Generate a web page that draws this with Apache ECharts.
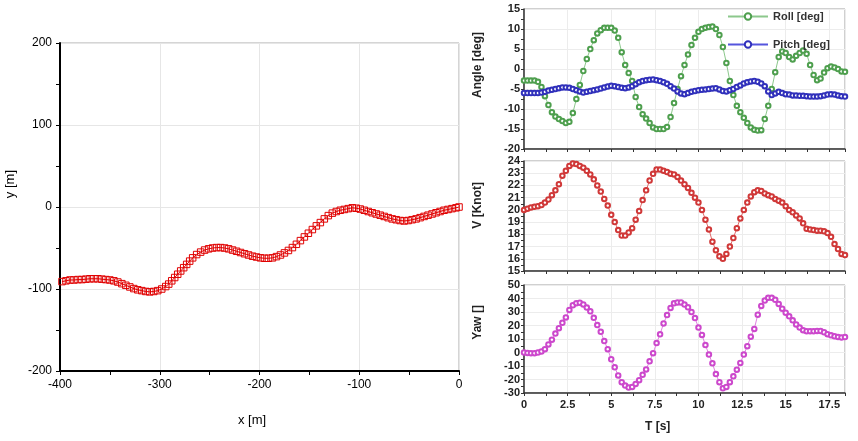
<!DOCTYPE html>
<html><head><meta charset="utf-8">
<script src="https://cdn.jsdelivr.net/npm/echarts@6/dist/echarts.min.js"></script>
<style>html,body{margin:0;padding:0;background:#fff}#c{width:858px;height:441px}</style>
</head><body><div id="c"></div>
<script>
// Trajectory (left chart)
const trajX = [-398,-394,-390,-386,-382,-378,-374,-370,-366,-362,-358,-354,-350,-346,-342,-338,-334,-330,-326,-322,-318,-314,-310,-306,-302,-298,-294,-291,-288,-285,-282,-279,-276,-273,-270,-267,-263,-259,-255,-251,-247,-243,-239,-235,-231,-227,-223,-219,-215,-211,-207,-203,-199,-195,-191,-187,-183,-179,-175,-171,-167,-163,-159,-155,-151,-147,-143,-139,-135,-131,-127,-123,-119,-115,-111,-107,-103,-99,-95,-91,-87,-83,-79,-75,-71,-67,-63,-59,-55,-51,-47,-43,-39,-35,-31,-27,-23,-19,-15,-11,-7,-3,0];
const trajY = [-91,-90,-89,-89,-88.5,-88.5,-88,-87.5,-87.5,-87.5,-88,-88.5,-89,-90,-91.5,-93.5,-95.5,-97.5,-99.5,-101,-102,-103,-103.5,-103,-102,-100,-97,-94,-90,-86,-82,-78,-74,-70,-66,-62,-58,-55,-52.5,-51,-50,-49.5,-49.5,-50,-51,-52.5,-54,-55.5,-57,-58.5,-60,-61,-62,-62.5,-62.5,-62,-60.5,-58.5,-56,-53,-49.5,-45.5,-41,-36.5,-32,-27.5,-23,-19,-14.5,-10.5,-7.5,-5.5,-4,-3,-2,-1,-1.5,-2.5,-4,-5.5,-7,-8.5,-10,-11.5,-13,-14.5,-15.5,-16.5,-17,-16.5,-15.5,-14.5,-13,-11.5,-10,-8.5,-7,-5.5,-4,-3,-2,-1,0];

// Time series (right charts)
const times = [0,0.2,0.4,0.6,0.8,1,1.2,1.4,1.6,1.8,2,2.2,2.4,2.6,2.8,3,3.2,3.4,3.6,3.8,4,4.2,4.4,4.6,4.8,5,5.2,5.4,5.6,5.8,6,6.2,6.4,6.6,6.8,7,7.2,7.4,7.6,7.8,8,8.2,8.4,8.6,8.8,9,9.2,9.4,9.6,9.8,10,10.2,10.4,10.6,10.8,11,11.2,11.4,11.6,11.8,12,12.2,12.4,12.6,12.8,13,13.2,13.4,13.6,13.8,14,14.2,14.4,14.6,14.8,15,15.2,15.4,15.6,15.8,16,16.2,16.4,16.6,16.8,17,17.2,17.4,17.6,17.8,18,18.2,18.4];
const roll = [-2.9,-2.9,-2.9,-2.9,-3.2,-4.5,-6.8,-9.0,-10.8,-11.9,-12.5,-13.0,-13.5,-13.2,-11.0,-7.5,-4.0,-0.5,2.5,5.0,7.2,8.9,9.7,10.3,10.3,10.3,9.6,7.8,4.2,1.0,-1.0,-3.0,-7.0,-9.5,-11.3,-12.4,-13.5,-14.6,-15.0,-15.0,-15.0,-14.5,-12.0,-8.5,-5.0,-1.8,1.0,3.6,6.0,7.8,9.3,10.0,10.3,10.5,10.6,10.0,8.5,5.5,1.5,-3.0,-6.5,-9.2,-10.8,-12.2,-13.5,-14.6,-15.2,-15.4,-15.3,-12.5,-9.2,-5.0,-0.8,3.0,4.4,4.0,3.0,2.4,3.3,4.0,4.6,3.8,1.0,-1.5,-2.8,-2.4,-0.9,0.2,0.6,0.4,0.0,-0.6,-0.7];
const pitch = [-6.0,-6.0,-6.0,-6.0,-6.0,-5.9,-5.7,-5.4,-5.2,-5.0,-4.8,-4.6,-4.6,-4.7,-5.0,-5.3,-5.6,-5.9,-5.7,-5.5,-5.3,-5.1,-4.9,-4.6,-4.4,-4.2,-4.3,-4.5,-4.7,-4.8,-4.6,-4.3,-3.8,-3.3,-3.0,-2.8,-2.7,-2.6,-2.8,-3.0,-3.3,-3.7,-4.3,-4.9,-5.6,-6.1,-6.3,-6.0,-5.7,-5.5,-5.3,-5.2,-5.1,-5.0,-4.9,-4.8,-5.1,-5.5,-5.6,-5.3,-5.0,-4.5,-4.1,-3.6,-3.3,-3.1,-3.0,-3.2,-3.6,-4.3,-5.6,-6.5,-6.1,-5.7,-6.0,-6.3,-6.4,-6.6,-6.6,-6.7,-6.7,-6.8,-6.9,-6.9,-6.9,-6.8,-6.6,-6.4,-6.3,-6.4,-6.6,-6.8,-6.9];
const speed = [20.0,20.1,20.2,20.25,20.3,20.4,20.6,20.85,21.2,21.6,22.1,22.8,23.2,23.6,23.8,23.75,23.6,23.45,23.2,22.9,22.5,22.0,21.5,20.9,20.35,19.6,19.0,18.35,17.9,17.9,18.15,18.5,19.2,19.9,20.8,21.6,22.4,22.95,23.3,23.3,23.2,23.1,22.95,22.9,22.7,22.4,22.1,21.8,21.4,21.0,20.6,20.0,19.2,18.4,17.4,16.7,16.2,16.0,16.4,17.0,17.7,18.5,19.3,20.0,20.6,21.1,21.45,21.6,21.55,21.35,21.2,21.1,20.9,20.75,20.6,20.3,20.0,19.8,19.55,19.3,18.9,18.45,18.4,18.35,18.3,18.3,18.25,18.1,17.8,17.2,16.8,16.4,16.3];
const yaw = [0,-0.3,-0.5,-0.5,0,0.8,2.5,6,9.5,14,18,22,26,31.5,35,36.5,36.9,35.6,33.3,30.5,25.7,20.3,15.3,8.5,2.5,-5,-11,-17,-22,-24.5,-26,-25.5,-23.3,-20.5,-16.5,-12.5,-6.5,-0.5,7,13.5,21.5,27.7,33,36.4,37.1,37.1,35.5,33.5,30,25.5,18.5,13,5.5,-1.5,-8,-16,-22,-26.5,-25.5,-22,-17.6,-12.7,-7.7,-1.5,4.7,11.7,17.5,28,34.5,38.5,40.5,40.5,39,36,32.5,29.5,26.8,23.8,20.8,18.5,16.5,15.8,15.8,15.8,16,16,15,13.6,12.7,12,11.5,11.2,11.4];

const pair = (xs, ys) => xs.map((x, i) => [x, ys[i]]);

const chart = echarts.init(document.getElementById('c'), null, {renderer: 'canvas'});
const font = 'Liberation Sans, Arial, sans-serif';
const rLabel = {color: '#222', fontSize: 11, fontWeight: 'bold', fontFamily: font, margin: 4};
const rGrid = {show: true, borderColor: '#a0a0a0', borderWidth: 1, backgroundColor: '#fff'};

function rightX(idx, showLabel) {
  return {
    type: 'value', gridIndex: idx, min: 0, max: 18.4, interval: 2.5,
    axisLine: {onZero: false, lineStyle: {color: '#333', width: 1.5}},
    axisTick: {show: true, length: 3, lineStyle: {color: '#333'}},
    minorTick: {show: true, splitNumber: 2, length: 3, lineStyle: {color: '#333'}},
    axisLabel: Object.assign({show: showLabel, showMaxLabel: false}, rLabel, {margin: 6}),
    splitLine: {show: true, lineStyle: {color: '#ececec'}}
  };
}
function rightY(idx, min, max, interval) {
  return {
    type: 'value', gridIndex: idx, min: min, max: max, interval: interval,
    axisLine: {show: true, lineStyle: {color: '#333', width: 1.5}},
    axisTick: {show: true, length: 3, lineStyle: {color: '#333'}},
    minorTick: {show: true, splitNumber: 2, length: 3, lineStyle: {color: '#333'}},
    axisLabel: rLabel,
    splitLine: {show: true, lineStyle: {color: '#ececec'}}
  };
}
function rSeries(name, idx, data, lineColor, markColor) {
  return {
    name: name, type: 'line', xAxisIndex: idx, yAxisIndex: idx, data: data,
    symbol: 'emptyCircle', symbolSize: 4.5, showSymbol: true,
    lineStyle: {color: lineColor, width: 1},
    itemStyle: {color: markColor, borderWidth: 0.9},
    emphasis: {disabled: true}
  };
}

const option = {
  animation: false,
  backgroundColor: '#fff',
  textStyle: {fontFamily: font},
  grid: [
    {left: 60, top: 43, width: 399, height: 328, show: true, borderColor: '#aaa', borderWidth: 1, backgroundColor: '#fff'},
    Object.assign({left: 524, top: 9, width: 321, height: 140}, rGrid),
    Object.assign({left: 524, top: 161, width: 321, height: 110}, rGrid),
    Object.assign({left: 524, top: 285, width: 321, height: 108}, rGrid)
  ],
  xAxis: [
    {
      type: 'value', gridIndex: 0, min: -400, max: 0, interval: 100,
      axisLine: {onZero: false, lineStyle: {color: '#000', width: 2}},
      axisTick: {length: 4, lineStyle: {color: '#000'}},
      minorTick: {show: true, splitNumber: 2, length: 4, lineStyle: {color: '#000'}},
      axisLabel: {color: '#000', fontSize: 12, fontFamily: font, margin: 8},
      splitLine: {show: true, lineStyle: {color: '#e6e6e6'}}
    },
    rightX(1, false), rightX(2, false), rightX(3, true)
  ],
  yAxis: [
    {
      type: 'value', gridIndex: 0, min: -200, max: 200, interval: 100,
      axisLine: {show: true, onZero: false, lineStyle: {color: '#000', width: 2}},
      axisTick: {show: true, length: 4, lineStyle: {color: '#000'}},
      minorTick: {show: true, splitNumber: 2, length: 4, lineStyle: {color: '#000'}},
      axisLabel: {color: '#000', fontSize: 12, fontFamily: font, margin: 8},
      splitLine: {show: true, lineStyle: {color: '#e6e6e6'}}
    },
    rightY(1, -20, 15, 5), rightY(2, 15, 24, 1), rightY(3, -30, 50, 10)
  ],
  legend: {
    data: ['Roll [deg]', 'Pitch [deg]'],
    orient: 'vertical', left: 727, top: 11, padding: 0, itemWidth: 40, itemHeight: 8, itemGap: 17,
    textStyle: {fontSize: 11, fontWeight: 'bold', color: '#333', fontFamily: font}
  },
  series: [
    {
      name: 'traj', type: 'line', xAxisIndex: 0, yAxisIndex: 0, data: pair(trajX, trajY),
      symbol: 'rect', symbolSize: 6.5,
      lineStyle: {color: '#dd0000', width: 1},
      itemStyle: {color: 'rgba(0,0,0,0)', borderColor: '#e00000', borderWidth: 1},
      emphasis: {disabled: true}
    },
    rSeries('Roll [deg]', 1, pair(times, roll), '#8cc88c', '#4e9f4e'),
    rSeries('Pitch [deg]', 1, pair(times, pitch), '#5555dd', '#3030bb'),
    rSeries('V', 2, pair(times, speed), '#e06a6a', '#d03838'),
    rSeries('Yaw', 3, pair(times, yaw), '#e080e0', '#cc48cc')
  ],
  graphic: [
    {type: 'text', left: 4, top: 170, rotation: Math.PI / 2, style: {text: 'y [m]', font: '13px ' + font, fill: '#000'}},
    {type: 'text', left: 238, top: 414, style: {text: 'x [m]', font: '13px ' + font, fill: '#000'}},
    {type: 'text', left: 472, top: 32, rotation: Math.PI / 2, style: {text: 'Angle [deg]', font: 'bold 12px ' + font, fill: '#222'}},
    {type: 'text', left: 472, top: 182, rotation: Math.PI / 2, style: {text: 'V [Knot]', font: 'bold 12px ' + font, fill: '#222'}},
    {type: 'text', left: 472, top: 305, rotation: Math.PI / 2, style: {text: 'Yaw []', font: 'bold 12px ' + font, fill: '#222'}},
    {type: 'text', left: 645, top: 421, style: {text: 'T [s]', font: 'bold 12px ' + font, fill: '#222'}}
  ]
};
chart.setOption(option);
</script>
</body></html>
